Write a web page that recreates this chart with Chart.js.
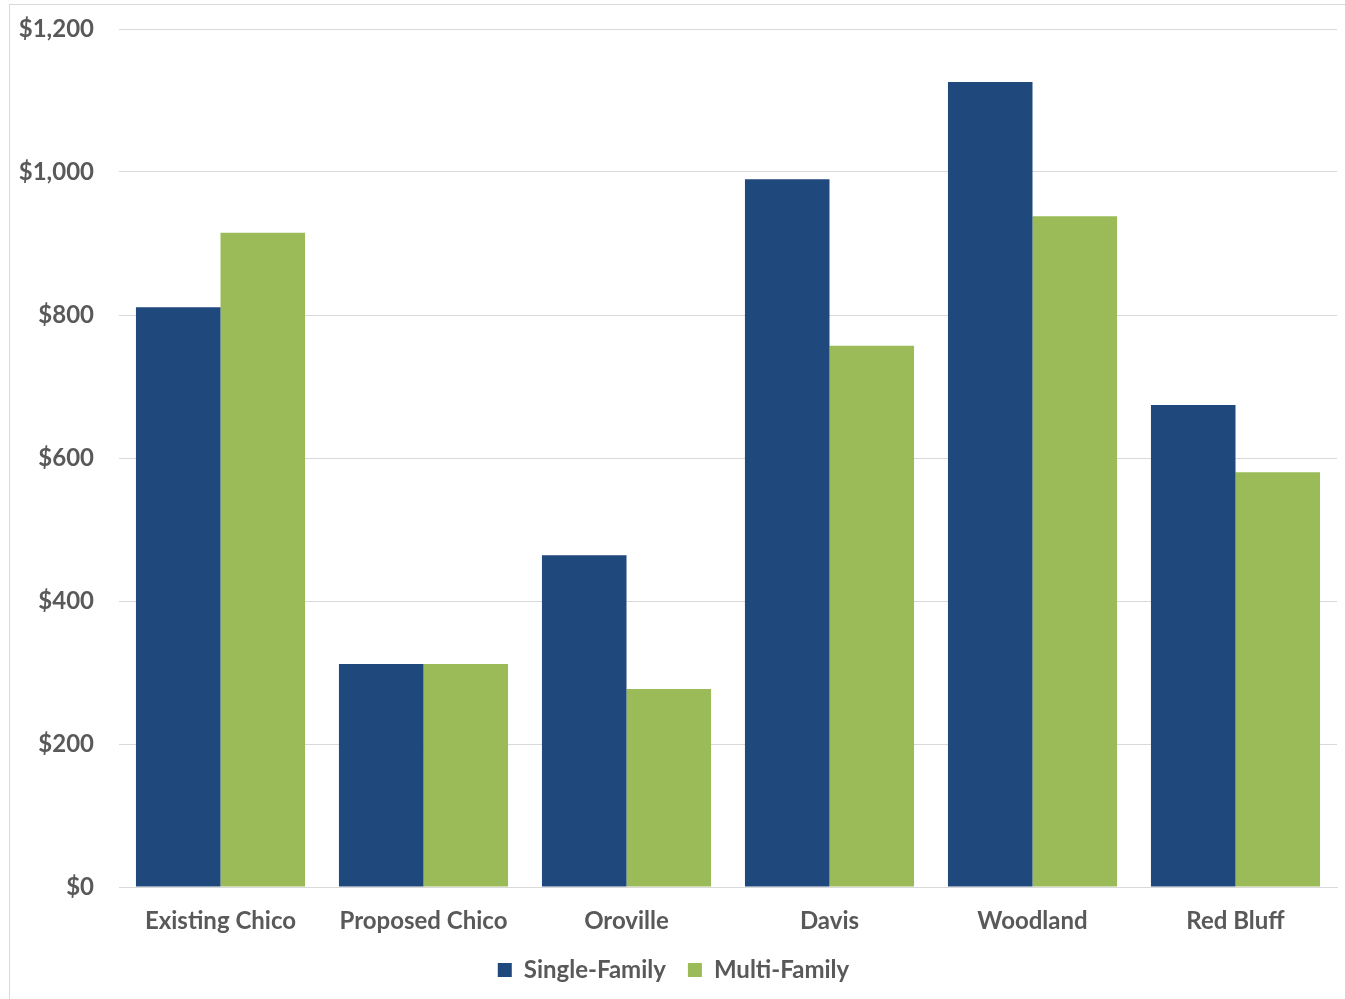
<!DOCTYPE html>
<html>
<head>
<meta charset="utf-8">
<script src="https://cdn.jsdelivr.net/npm/chart.js@4.4.1/dist/chart.umd.min.js"></script>
<style>
  html, body { margin: 0; padding: 0; background: #fff; }
  #wrap {
    position: absolute; left: 9px; top: 4px; width: 1336px; height: 995px;
    border-left: 1px solid #d9d9d9; border-top: 1px solid #d9d9d9;
  }
  #wrap canvas { display: block; }
</style>
</head>
<body>
<div id="wrap"><canvas id="feeChart" width="1335" height="994"></canvas></div>
<script>
const cities = ['Existing Chico', 'Proposed Chico', 'Oroville', 'Davis', 'Woodland', 'Red Bluff'];
const singleFamily = [811, 312, 464, 990, 1126, 674];
const multiFamily = [915, 312, 277, 757, 938, 580];
const yTicks = [0, 200, 400, 600, 800, 1000, 1200];

const textColor = '#595959';
const font = { family: 'Lato', size: 24, weight: 'bold' };

const ctx = document.getElementById('feeChart').getContext('2d');
new Chart(ctx, {
  type: 'bar',
  data: {
    labels: cities,
    datasets: [
      { label: 'Single-Family', data: singleFamily, backgroundColor: '#1f497d' },
      { label: 'Multi-Family', data: multiFamily, backgroundColor: '#9bbb59' }
    ]
  },
  options: {
    responsive: false,
    animation: false,
    categoryPercentage: 0.833,
    barPercentage: 1,
    layout: { padding: { top: 24, right: 8, left: 0, bottom: 7 } },
    scales: {
      x: {
        afterFit: axis => { axis.height = 49; },
        grid: { display: false, drawTicks: false },
        border: { display: true, color: '#d9d9d9', width: 1 },
        ticks: { color: textColor, font: font, padding: 20, maxRotation: 0 }
      },
      y: {
        min: 0,
        max: 1200,
        afterBuildTicks: axis => { axis.ticks = yTicks.map(v => ({ value: v })); },
        afterFit: axis => {
          axis.width = 109;
          // the top label may overhang the plot, no extra room for it
          axis.paddingTop = 0;
          axis.paddingBottom = 0;
        },
        grid: { color: '#d9d9d9', drawTicks: false },
        border: { display: false },
        ticks: {
          color: textColor, font: font, padding: 25,
          callback: v => '$' + v.toLocaleString('en-US')
        }
      }
    },
    plugins: {
      legend: {
        position: 'bottom',
        labels: {
          color: textColor, font: font, boxWidth: 14, boxHeight: 14,
          padding: 22
        }
      },
      tooltip: { enabled: false }
    }
  }
});
</script>
</body>
</html>
